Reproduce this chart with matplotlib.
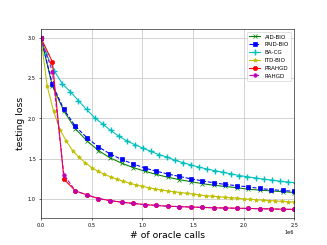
import numpy as np
import matplotlib
matplotlib.use("Agg")
import matplotlib.pyplot as plt

# shared x grid (oracle calls) for AID/PAID/PRAHGD/RAHGD
x_main = np.linspace(0, 2.5e6, 23)
aid_bio = [3.0, 2.40, 2.09, 1.87, 1.72, 1.60, 1.51, 1.445, 1.39, 1.345, 1.305, 1.27,
           1.24, 1.215, 1.19, 1.17, 1.155, 1.14, 1.12, 1.11, 1.10, 1.09, 1.08]
paid_bio = [3.0, 2.42, 2.11, 1.90, 1.76, 1.645, 1.56, 1.49, 1.435, 1.385, 1.345, 1.31,
            1.28, 1.25, 1.225, 1.20, 1.18, 1.165, 1.15, 1.13, 1.115, 1.105, 1.095]
prahgd = [3.0, 2.70, 1.245, 1.10, 1.05, 1.005, 0.98, 0.96, 0.945, 0.93, 0.92, 0.91,
          0.905, 0.90, 0.895, 0.89, 0.888, 0.885, 0.882, 0.879, 0.876, 0.873, 0.87]
rahgd = [3.0, 2.58, 1.30, 1.10, 1.05, 1.005, 0.98, 0.96, 0.945, 0.93, 0.92, 0.91,
         0.905, 0.90, 0.895, 0.89, 0.888, 0.885, 0.882, 0.879, 0.876, 0.873, 0.87]

# ITD-BIO
x_itd = np.linspace(0, 2.5e6, 41)
itd_bio = [3.0, 2.40, 2.09, 1.86, 1.72, 1.60, 1.52, 1.45, 1.39, 1.345, 1.305, 1.275,
           1.245, 1.22, 1.195, 1.175, 1.155, 1.14, 1.125, 1.11, 1.10, 1.09, 1.08, 1.07,
           1.06, 1.05, 1.04, 1.035, 1.03, 1.02, 1.015, 1.01, 1.00, 0.995, 0.99, 0.985,
           0.98, 0.975, 0.97, 0.965, 0.96]

# BA-CG
x_bacg = [0.0, 0.053e6, 0.132e6, 0.211e6, 0.291e6, 0.370e6, 0.450e6, 0.529e6, 0.609e6,
          0.688e6, 0.768e6, 0.847e6, 0.926e6, 1.006e6, 1.085e6, 1.165e6, 1.244e6,
          1.324e6, 1.403e6, 1.482e6, 1.562e6, 1.641e6, 1.721e6, 1.800e6, 1.880e6,
          1.959e6, 2.038e6, 2.118e6, 2.197e6, 2.277e6, 2.356e6, 2.436e6, 2.515e6]
ba_cg = [3.0, 2.80, 2.59, 2.43, 2.33, 2.22, 2.11, 2.01, 1.93, 1.85, 1.78, 1.72, 1.675,
         1.63, 1.59, 1.55, 1.52, 1.48, 1.45, 1.42, 1.395, 1.37, 1.35, 1.33, 1.31, 1.29,
         1.275, 1.26, 1.245, 1.235, 1.22, 1.21, 1.20]

fig, ax = plt.subplots(figsize=(6.4, 4.8), dpi=51.1)
ax.plot(x_main, aid_bio, 'g-x', label='AID-BIO', markersize=6, linewidth=1.5)
ax.plot(x_main, paid_bio, 'b--s', label='PAID-BIO', markersize=7, linewidth=1.5)
ax.plot(x_bacg, ba_cg, 'c-+', label='BA-CG', markersize=8, markeredgewidth=2, linewidth=1.5)
ax.plot(x_itd, itd_bio, 'y-*', label='ITD-BIO', markersize=6, linewidth=1.5)
ax.plot(x_main, prahgd, 'r-o', label='PRAHGD', markersize=6, linewidth=1.5)
ax.plot(x_main, rahgd, 'm--o', label='RAHGD', markersize=5, linewidth=1.5)
ax.set_xlim(0, 2.5e6)
ax.grid(True, color='#cccccc', linewidth=1.2)
ax.tick_params(labelsize=7)
ax.xaxis.get_offset_text().set_fontsize(7)
ax.set_xlabel('# of oracle calls', fontsize=13)
ax.set_ylabel('testing loss', fontsize=13)
ax.legend(loc='upper right', fontsize=8)
fig.savefig('out.png', dpi=51.1)
